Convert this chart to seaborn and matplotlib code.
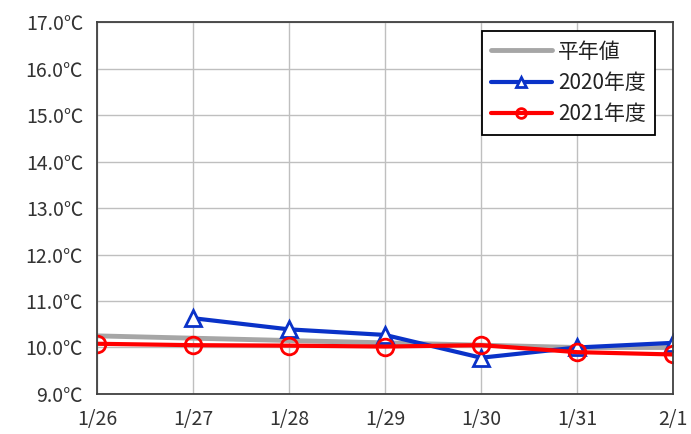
import matplotlib
matplotlib.use("Agg")
import matplotlib.pyplot as plt
import seaborn as sns
import pandas as pd
import numpy as np

dates = ["1/26", "1/27", "1/28", "1/29", "1/30", "1/31", "2/1"]
normal = [10.25, 10.2, 10.15, 10.1, 10.05, 10.0, 10.0]
y2020 = [np.nan, 10.63, 10.39, 10.27, 9.78, 10.0, 10.1]
y2021 = [10.08, 10.05, 10.04, 10.02, 10.05, 9.9, 9.85]
yticks = [9, 10, 11, 12, 13, 14, 15, 16, 17]

sns.set_theme(style="white")
plt.rcParams['font.family'] = ['Noto Sans CJK JP', 'DejaVu Sans']

fig = plt.figure(figsize=(6.91, 4.34), dpi=100)
ax = fig.add_axes([0.1404, 0.0922, 0.8336, 0.857])

x = list(range(len(dates)))
df = pd.DataFrame({"x": x, "平年値": normal, "2020年度": y2020, "2021年度": y2021})

sns.lineplot(data=df, x="x", y="平年値", ax=ax, color="#a6a6a6", lw=3.5, label="平年値")
sns.lineplot(data=df, x="x", y="2020年度", ax=ax, color="#0a32c8", lw=3, marker="^",
             markersize=11, markerfacecolor="white", markeredgecolor="#0a32c8",
             markeredgewidth=2, label="2020年度")
sns.lineplot(data=df, x="x", y="2021年度", ax=ax, color="#ff0000", lw=3, marker="o",
             markersize=12, markerfacecolor="none", markeredgecolor="#ff0000",
             markeredgewidth=2, label="2021年度")

ax.set_xlim(0, len(dates) - 1)
ax.set_ylim(9, 17)
ax.set_xticks(x)
ax.set_xticklabels(dates)
ax.set_yticks(yticks)
ax.set_yticklabels([f"{v:.1f}℃" for v in yticks])
ax.set_xlabel("")
ax.set_ylabel("")
ax.grid(True, color="#bfbfbf", lw=1)
for s in ax.spines.values():
    s.set_color("#404040")
    s.set_linewidth(1.3)
ax.tick_params(axis="both", labelsize=14, colors="#333333", length=0)
ax.tick_params(axis="x", pad=11)
ax.tick_params(axis="y", pad=10)
for t in ax.get_xticklabels() + ax.get_yticklabels():
    t.set_color("#333333")

leg = ax.legend(loc="upper right", bbox_to_anchor=(0.969, 0.975), frameon=True,
                fontsize=15, fancybox=False, edgecolor="black", framealpha=1,
                handlelength=2.9, handletextpad=0.3, borderpad=0.45, borderaxespad=0,
                labelspacing=0.45)
leg.get_frame().set_linewidth(1.3)
for ln in leg.get_lines():
    ln.set_markersize(7)
for t in leg.get_texts():
    t.set_color("#222222")

fig.savefig("out.png", dpi=100)
